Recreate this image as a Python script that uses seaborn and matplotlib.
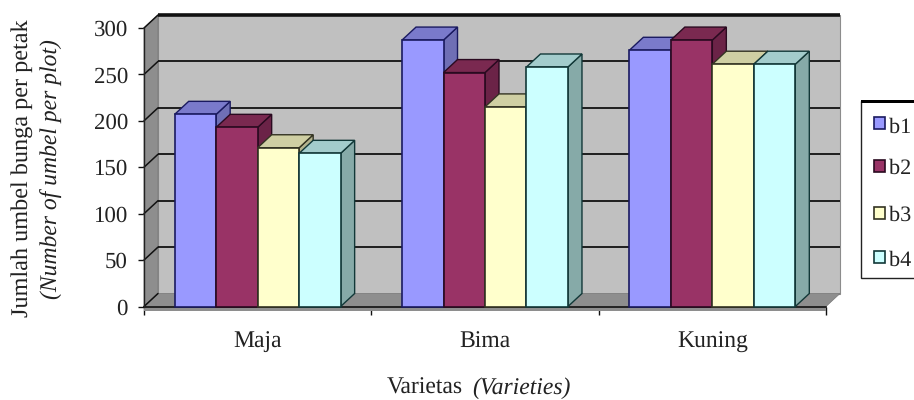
import matplotlib
matplotlib.use('Agg')
import matplotlib.pyplot as plt
from matplotlib.patches import Polygon, Rectangle
import pandas as pd
import seaborn as sns

varieties = ['Maja', 'Bima', 'Kuning']
treatments = ['b1', 'b2', 'b3', 'b4']
b1 = [207, 287, 276]
b2 = [193, 252, 287]
b3 = [171, 215, 261]
b4 = [165, 258, 261]
y_ticks = [0, 50, 100, 150, 200, 250, 300]

front_colors = ['#9999FF', '#993366', '#FFFFCC', '#CCFFFF']
side_colors = ['#6f6fb5', '#6b2347', '#b3b38e', '#86aaa8']
top_colors = ['#7a7acb', '#7a2950', '#cfcfa3', '#a3cccc']
edge_colors = ['#1a1a60', '#2a0a20', '#333322', '#123838']

df = pd.DataFrame({'variety': varieties * 4,
                   'treatment': [t for t in treatments for _ in varieties],
                   'value': b1 + b2 + b3 + b4})

sns.set_style('white')
plt.rcParams['font.family'] = ['Liberation Serif', 'DejaVu Serif']
plt.rcParams['text.hinting'] = 'none'
plt.rcParams['text.color'] = '#222222'
plt.rcParams['xtick.labelcolor'] = '#222222'
plt.rcParams['ytick.labelcolor'] = '#222222'

W, H = 914, 400
fig = plt.figure(figsize=(W / 100, H / 100), dpi=100)
# main axes = the front plane of the fake 3d box
ax = fig.add_axes([144 / W, 1 - 306.5 / H, 682 / W, 278.5 / H])

sns.barplot(data=df, x='variety', y='value', hue='treatment', order=varieties,
            hue_order=treatments, palette=front_colors, width=0.73, gap=0,
            saturation=1, legend=False, errorbar=None, ax=ax)
ax.set_xlim(-0.5, 2.5)
ax.set_ylim(0, 300)
ax.patch.set_visible(False)

# depth of the box, in data units
dx = 14 * 3 / 682
dy = 14

# back wall, left wall, floor
ax.add_patch(Polygon([(-0.5 + dx, dy), (2.5 + dx, dy), (2.5 + dx, 300 + dy), (-0.5 + dx, 300 + dy)],
                     fc='#c0c0c0', ec='#8c8c8c', lw=0.8, zorder=0.5, clip_on=False))
ax.add_patch(Polygon([(-0.5, 0), (-0.5 + dx, dy), (-0.5 + dx, 300 + dy), (-0.5, 300)],
                     fc='#8e8e8e', ec='#777777', lw=0.5, zorder=0.6, clip_on=False))
ax.add_patch(Polygon([(-0.5, 0), (-0.5 + dx, dy), (2.5 + dx, dy), (2.5, 0)],
                     fc='#8e8e8e', ec='#777777', lw=0.5, zorder=0.6, clip_on=False))
ax.add_patch(Polygon([(-0.5, 0), (2.5, 0), (2.5, -4.5), (-0.5, -4.5)],
                     fc='#8e8e8e', ec='none', zorder=0.6, clip_on=False))

# gridlines on the wall and the little diagonals on the left side
for v in y_ticks[1:]:
    lw = 2.6 if v == 300 else 1.3
    ax.plot([-0.5 + dx, 2.5 + dx], [v + dy, v + dy], color='#111111', lw=lw, zorder=0.8, clip_on=False,
            solid_capstyle='butt')
for v in y_ticks:
    ax.plot([-0.5, -0.5 + dx], [v, v + dy], color='#111111', lw=1.1, zorder=0.8, clip_on=False)

# side and top faces worked out from the bars seaborn drew
bars = [p for p in ax.patches if isinstance(p, Rectangle) and p.get_height() > 0]
for i, t in enumerate(treatments):
    group = bars[i * len(varieties):(i + 1) * len(varieties)]
    for bar in group:
        x0, w, h = bar.get_x(), bar.get_width(), bar.get_height()
        x1 = x0 + w
        z = 10 + x0 * 10
        ax.add_patch(Polygon([(x1, 0), (x1 + dx, dy), (x1 + dx, h + dy), (x1, h)],
                             fc=side_colors[i], ec=edge_colors[i], lw=1.0, zorder=z, clip_on=False))
        ax.add_patch(Polygon([(x0, h), (x0 + dx, h + dy), (x1 + dx, h + dy), (x1, h)],
                             fc=top_colors[i], ec=edge_colors[i], lw=1.0, zorder=z, clip_on=False))
        bar.set_edgecolor(edge_colors[i])
        bar.set_linewidth(1.2)
        bar.set_zorder(z + 0.01)
for bar in bars:
    bar.set_clip_on(False)

sns.despine(ax=ax, top=True, right=True, left=False, bottom=False)
ax.spines['left'].set_linewidth(1.0)
ax.spines['left'].set_color('#222222')
ax.spines['bottom'].set_linewidth(1.2)
ax.spines['bottom'].set_color('#111111')
ax.spines['bottom'].set_zorder(2)

ax.set_yticks(y_ticks)
ax.set_xticks([-0.5, 0.5, 1.5, 2.5])
ax.set_xticklabels([])
ax.set_xticks([0, 1, 2], minor=True)
ax.set_xticklabels(varieties, minor=True)
ax.tick_params(axis='x', which='major', length=6, width=1.0, color='#111111', bottom=True)
ax.tick_params(axis='x', which='minor', length=0, pad=18, labelsize=17)
ax.tick_params(axis='y', length=4.5, width=1.0, color='#111111', left=True, labelsize=16.5, pad=7)
ax.set_xlabel('')
ax.set_ylabel('')

# axis titles, two fonts so two texts
fig.text(22 / W, 1 - 168 / H, 'Jumlah umbel bunga per petak', rotation=90, ha='center', va='center', fontsize=17.5)
fig.text(52 / W, 1 - 169 / H, '(Number of umbel per plot)', rotation=90, ha='center', va='center',
         fontsize=17, style='italic')
fig.text(463 / W, 1 - 388 / H, 'Varietas', ha='right', va='center', fontsize=17)
fig.text(472 / W, 1 - 388 / H, '(Varieties)', ha='left', va='center', fontsize=17, style='italic')

# legend box runs off the right edge of the picture
fig.add_artist(Rectangle((861 / W, 1 - 278 / H), 60 / W, 177 / H, transform=fig.transFigure,
                         fc='white', ec='#222222', lw=1.0))
fig.add_artist(Rectangle((861 / W, 1 - 103 / H), 60 / W, 3 / H, transform=fig.transFigure,
                         fc='black', ec='none'))
legend_y = [123, 166, 213, 257]
legend_text_y = [127, 168, 215, 260]
for t, fc, ec, y, ty in zip(treatments, front_colors, edge_colors, legend_y, legend_text_y):
    fig.add_artist(Rectangle((874 / W, 1 - (y + 6) / H), 11 / W, 12 / H, transform=fig.transFigure,
                             fc=fc, ec=ec, lw=1.2))
    fig.text(889 / W, 1 - ty / H, t, ha='left', va='center', fontsize=16)

fig.savefig('out.png', dpi=100)
